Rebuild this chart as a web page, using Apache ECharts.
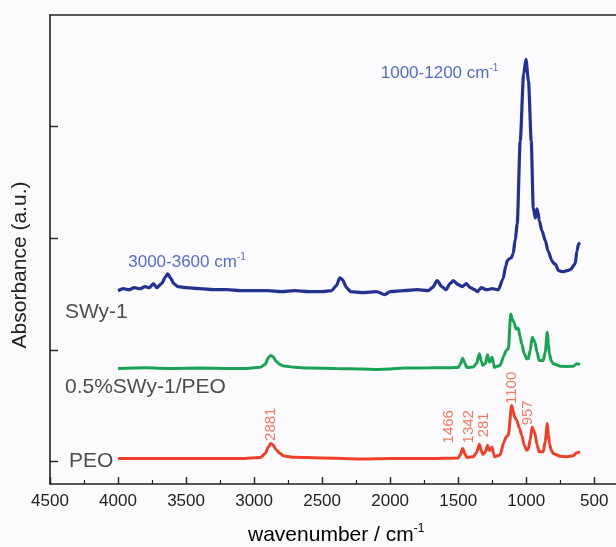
<!DOCTYPE html>
<html>
<head>
<meta charset="utf-8">
<script src="https://cdn.jsdelivr.net/npm/echarts@6/dist/echarts.min.js"></script>
<style>
html,body{margin:0;padding:0;background:#fbfbfd;}
#chart{width:616px;height:547px;}
</style>
</head>
<body>
<div id="chart"></div>
<script>
// ---- data (wavenumber in cm^-1, absorbance in arbitrary offset units) ----
const swyWn = [4000,3960,3920,3880,3840,3800,3770,3740,3715,3680,3650,3635,3615,3590,3560,3500,3400,3300,3200,3100,3000,2900,2800,2700,2600,2500,2430,2395,2370,2350,2320,2290,2200,2100,2040,2000,1900,1800,1720,1690,1654,1620,1590,1560,1536,1500,1470,1440,1410,1380,1360,1330,1290,1250,1205,1170,1150,1139,1125,1110,1096,1080,1066,1044,1019,1002,983,963,948,933,921,912,904,884,859,840,811,795,787,762,730,700,676,640,627,615,603];
const swyAbs = [1.531,1.549,1.540,1.558,1.549,1.567,1.558,1.594,1.558,1.594,1.656,1.683,1.647,1.594,1.567,1.558,1.549,1.540,1.540,1.531,1.531,1.531,1.522,1.531,1.522,1.522,1.531,1.576,1.647,1.629,1.558,1.522,1.513,1.522,1.496,1.522,1.531,1.540,1.531,1.558,1.621,1.567,1.540,1.594,1.621,1.585,1.567,1.594,1.558,1.540,1.522,1.558,1.540,1.549,1.540,1.638,1.754,1.799,1.817,1.826,1.862,1.996,2.129,2.871,3.469,3.603,3.406,2.871,2.272,2.183,2.263,2.228,2.156,2.067,1.978,1.888,1.799,1.772,1.772,1.710,1.701,1.710,1.719,1.772,1.888,1.951,1.960];

const blendWn = [4000,3800,3600,3400,3200,3050,2954,2920,2895,2878,2860,2840,2810,2782,2700,2600,2400,2200,2100,2000,1900,1700,1550,1500,1485,1467,1450,1437,1389,1365,1344,1330,1319,1300,1284,1275,1269,1251,1240,1234,1192,1163,1148,1131,1114,1100,1090,1075,1058,1045,1033,1015,997,985,970,956,945,936,920,905,875,860,845,836,830,815,800,751,700,654,629,604];
const blendAbs = [0.835,0.840,0.835,0.838,0.835,0.835,0.846,0.870,0.930,0.951,0.940,0.900,0.870,0.857,0.845,0.838,0.835,0.830,0.825,0.830,0.838,0.840,0.842,0.844,0.870,0.927,0.880,0.844,0.848,0.880,0.966,0.900,0.862,0.880,0.957,0.910,0.891,0.936,0.880,0.844,0.862,0.951,0.996,1.011,1.323,1.270,1.248,1.189,1.195,1.120,1.055,0.970,0.921,0.921,1.000,1.114,1.090,1.070,0.980,0.906,0.906,0.980,1.159,1.050,0.966,0.900,0.877,0.855,0.852,0.855,0.877,0.871];

const peoWn = [4000,3500,3100,2954,2920,2895,2878,2860,2840,2810,2782,2700,2500,2200,2000,1700,1500,1485,1467,1450,1437,1389,1365,1344,1330,1319,1300,1284,1275,1269,1251,1240,1234,1192,1163,1148,1131,1107,1095,1085,1070,1050,1033,1015,997,985,970,956,945,936,920,905,875,860,845,836,830,815,800,751,700,654,629,604];
const peoAbs = [0.029,0.029,0.029,0.038,0.070,0.130,0.163,0.150,0.110,0.075,0.050,0.040,0.033,0.025,0.029,0.029,0.033,0.060,0.118,0.070,0.038,0.045,0.080,0.156,0.100,0.065,0.085,0.147,0.110,0.100,0.130,0.075,0.045,0.060,0.177,0.221,0.240,0.504,0.450,0.400,0.371,0.300,0.237,0.150,0.103,0.110,0.200,0.311,0.280,0.254,0.150,0.088,0.088,0.180,0.341,0.240,0.163,0.100,0.073,0.049,0.045,0.052,0.080,0.088];

// peak annotations on PEO (rotated)
const peakText = ['2881','1466','1342','281','1100','957'];
const peakWn   = [2878,1572,1420,1308,1107,985];
const peakAbs  = [0.335,0.3125,0.3125,0.330,0.661,0.4375];

// band annotations on SWy-1
const bandText = ['1000-1200 cm', '3000-3600 cm'];
const bandWn   = [2069, 3925];
const bandAbs  = [3.48, 1.784];

// sample names
const nameText = ['SWy-1', '0.5%SWy-1/PEO', 'PEO'];
const nameWn   = [4390, 4390, 4360];
const nameAbs  = [1.341, 0.6625, 0.0];

// axis ticks
const majorTicks = [500,1000,1500,2000,2500,3000,3500,4000,4500];
const minorTicks = [750,1250,1750,2250,2750,3250,3750,4250];
const yTicks = [0,1,2,3];

const FONT = "'Liberation Sans', Arial, Helvetica, sans-serif";
const AX = '#222';

function zip(a,b){ return a.map((v,i)=>[v,b[i]]); }

const chart = echarts.init(document.getElementById('chart'), null, {renderer:'canvas'});

const option = {
  backgroundColor: '#fbfbfd',
  animation: false,
  grid: {left: 50, right: 0, top: 15, bottom: 63, containLabel: false},
  xAxis: [
    {
      type: 'value', inverse: true, min: 340, max: 4500, position: 'bottom',
      axisLine: {show: true, onZero: false, lineStyle: {color: AX, width: 1.6}},
      axisTick: {show: true, inside: true, length: 7, customValues: majorTicks, lineStyle: {color: AX, width: 1.4}},
      axisLabel: {show: true, customValues: majorTicks, fontSize: 17, margin: 9, color: AX, fontFamily: FONT,
        formatter: v => String(v)},
      splitLine: {show: false}
    },
    {
      type: 'value', inverse: true, min: 340, max: 4500, position: 'bottom',
      axisLine: {show: false, onZero: false},
      axisTick: {show: true, inside: true, length: 4, customValues: minorTicks, lineStyle: {color: AX, width: 1.2}},
      axisLabel: {show: false},
      splitLine: {show: false}
    },
    {
      type: 'value', inverse: true, min: 340, max: 4500, position: 'top',
      axisLine: {show: true, onZero: false, lineStyle: {color: AX, width: 1.6}},
      axisTick: {show: false}, axisLabel: {show: false}, splitLine: {show: false}
    }
  ],
  yAxis: {
    type: 'value', min: -0.2, max: 4,
    axisLine: {show: true, onZero: false, lineStyle: {color: AX, width: 1.6}},
    axisTick: {show: true, inside: true, length: 8, customValues: yTicks, lineStyle: {color: AX, width: 1.4}},
    axisLabel: {show: false},
    splitLine: {show: false}
  },
  graphic: [
    {
      type: 'text', x: 20, y: 265, rotation: Math.PI/2,
      style: {text: 'Absorbance (a.u.)', font: "21px " + FONT, fill: AX, align: 'center', verticalAlign: 'middle'}
    },
    {
      type: 'text', x: 248, y: 535,
      style: {
        text: '{a|wavenumber / cm}{s|-1}', align: 'left', verticalAlign: 'middle',
        rich: {
          a: {fontSize: 21, fontFamily: FONT, color: AX, lineHeight: 24},
          s: {fontSize: 12, fontFamily: FONT, color: AX, lineHeight: 12, verticalAlign: 'top'}
        }
      }
    }
  ],
  series: [
    {
      name: 'SWy-1', type: 'line', data: zip(swyWn, swyAbs), showSymbol: false, symbol: 'none',
      smooth: 0.25, smoothMonotone: 'x',
      lineStyle: {color: '#24328f', width: 3.2}, silent: true
    },
    {
      name: '0.5%SWy-1/PEO', type: 'line', data: zip(blendWn, blendAbs), showSymbol: false, symbol: 'none',
      smooth: 0.25, smoothMonotone: 'x',
      lineStyle: {color: '#1aa352', width: 3}, silent: true
    },
    {
      name: 'PEO', type: 'line', data: zip(peoWn, peoAbs), showSymbol: false, symbol: 'none',
      smooth: 0.25, smoothMonotone: 'x',
      lineStyle: {color: '#ec4128', width: 3}, silent: true
    },
    {
      type: 'scatter', silent: true, symbolSize: 1, itemStyle: {color: 'rgba(0,0,0,0)'},
      data: peakText.map((t,i)=>({value: [peakWn[i], peakAbs[i]], name: t})),
      label: {show: true, position: 'inside', formatter: p => p.name, rotate: 90,
        align: 'center', verticalAlign: 'middle', fontSize: 15, color: '#ee5a3c', fontFamily: FONT}
    },
    {
      type: 'scatter', silent: true, symbolSize: 1, itemStyle: {color: 'rgba(0,0,0,0)'},
      data: bandText.map((t,i)=>({value: [bandWn[i], bandAbs[i]], name: t})),
      label: {show: true, position: 'inside', align: 'left', verticalAlign: 'middle',
        formatter: p => '{a|' + p.name + '}{s|-1}',
        rich: {
          a: {fontSize: 17, fontFamily: FONT, color: '#2c48b0', lineHeight: 20},
          s: {fontSize: 10, fontFamily: FONT, color: '#2c48b0', lineHeight: 10, verticalAlign: 'top'}
        }
      }
    },
    {
      type: 'scatter', silent: true, symbolSize: 1, itemStyle: {color: 'rgba(0,0,0,0)'},
      data: nameText.map((t,i)=>({value: [nameWn[i], nameAbs[i]], name: t})),
      label: {show: true, position: 'inside', align: 'left', verticalAlign: 'middle',
        formatter: p => p.name, fontSize: 21, color: AX, fontFamily: FONT}
    }
  ]
};
chart.setOption(option);
</script>
</body>
</html>
